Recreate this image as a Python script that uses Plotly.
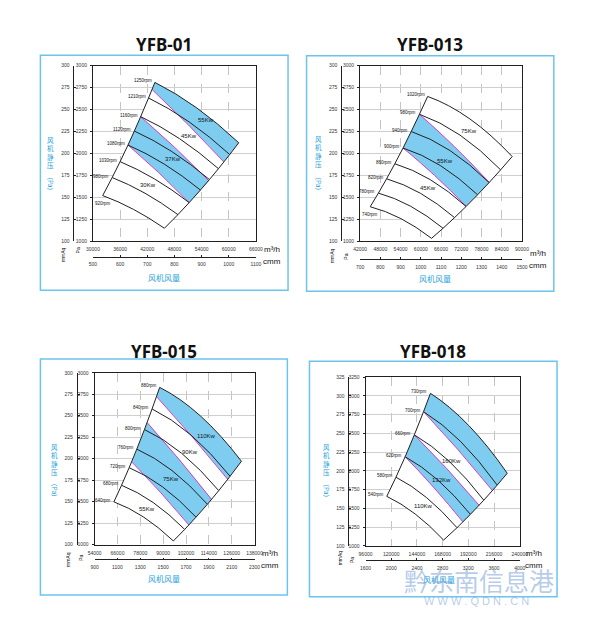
import plotly.graph_objects as go

FIG_W, FIG_H = 604, 637

TITLES = ["YFB-01", "YFB-013", "YFB-015", "YFB-018"]

# ---------------- Panel 1 : YFB-01 ----------------
P1_RPM = [920, 980, 1030, 1080, 1120, 1160, 1210, 1250]
P1_START_Q = [32150, 34246, 35995, 37741, 39139, 40538, 42284, 43682]
P1_START_P = [1522, 1727, 1908, 2097, 2256, 2420, 2633, 2810]
P1_MID_Q = [38950, 41490, 43608, 45724, 47418, 49112, 51227, 52921]
P1_MID_P = [1365, 1549, 1711, 1881, 2023, 2170, 2361, 2520]
P1_END_Q = [45780, 48765, 51255, 53741, 55733, 57724, 60210, 62201]
P1_END_P = [1150, 1305, 1442, 1585, 1704, 1828, 1989, 2123]
P1_ISO_Q = [[37741, 44498, 51255], [40538, 48069, 55600], [43051, 50975, 58900]]
P1_ISO_P = [[2097, 1785, 1442], [2420, 2070, 1690], [2729, 2332, 1906]]
P1_BANDS = [(("iso", 0), ("iso", 1)), (("iso", 2), ("rpm", 7))]
P1_KW_TEXT = ["55Kw", "45Kw", "37Kw", "30Kw"]
P1_KW_Q = [54880, 51300, 47710, 42190]
P1_KW_P = [2380, 2203, 1936, 1639]
P1_Q_RANGE = [30000, 66000]
P1_Q_TICKS = [30000, 36000, 42000, 48000, 54000, 60000, 66000]
P1_CMM_RANGE = [500, 1100]
P1_CMM_TICKS = [500, 600, 700, 800, 900, 1000, 1100]
P1_P_RANGE = [1000, 3000]
P1_P_TICKS = [1000, 1250, 1500, 1750, 2000, 2250, 2500, 2750, 3000]
P1_MM_RANGE = [100, 300]
P1_MM_TICKS = [100, 125, 150, 175, 200, 225, 250, 275, 300]

# ---------------- Panel 2 : YFB-013 ----------------
P2_RPM = [740, 780, 820, 860, 900, 940, 980, 1020]
P2_START_Q = [45000, 47432, 49865, 52297, 54730, 57162, 59594, 62027]
P2_START_P = [1395, 1550, 1713, 1884, 2063, 2251, 2447, 2650]
P2_MID_Q = [54090, 57014, 59938, 62861, 65785, 68709, 71632, 74557]
P2_MID_P = [1260, 1400, 1547, 1702, 1864, 2033, 2210, 2394]
P2_END_Q = [63180, 66595, 70010, 73425, 76841, 80256, 83670, 87086]
P2_END_P = [1035, 1150, 1271, 1398, 1531, 1670, 1815, 1966]
P2_ISO_Q = [[54730, 64090, 73450], [59594, 69947, 80300]]
P2_ISO_P = [[2063, 1751, 1399], [2447, 2080, 1672]]
P2_BANDS = [(("iso", 0), ("iso", 1))]
P2_KW_TEXT = ["75Kw", "55Kw", "45Kw"]
P2_KW_Q = [74400, 67200, 62200]
P2_KW_P = [2255, 1910, 1609]
P2_Q_RANGE = [42000, 90000]
P2_Q_TICKS = [42000, 48000, 54000, 60000, 66000, 72000, 78000, 84000, 90000]
P2_CMM_RANGE = [700, 1500]
P2_CMM_TICKS = [700, 800, 900, 1000, 1100, 1200, 1300, 1400, 1500]
P2_P_RANGE = [1000, 3000]
P2_P_TICKS = [1000, 1250, 1500, 1750, 2000, 2250, 2500, 2750, 3000]
P2_MM_RANGE = [100, 300]
P2_MM_TICKS = [100, 125, 150, 175, 200, 225, 250, 275, 300]

# ---------------- Panel 3 : YFB-015 ----------------
P3_RPM = [640, 680, 720, 760, 800, 840, 880]
P3_START_Q = [64130, 68138, 72146, 76154, 80163, 84171, 88179]
P3_START_P = [1497, 1690, 1895, 2111, 2339, 2579, 2830]
P3_MID_Q = [79740, 84724, 89708, 94691, 99675, 104659, 109643]
P3_MID_P = [1320, 1490, 1671, 1861, 2063, 2274, 2496]
P3_END_Q = [95350, 101309, 107269, 113228, 119188, 125147, 131106]
P3_END_P = [1042, 1176, 1319, 1469, 1628, 1795, 1970]
P3_ISO_Q = [[73600, 88550, 103500], [81600, 98500, 115400], [86500, 105200, 123900]]
P3_ISO_P = [[1960, 1609, 1228], [2420, 1988, 1526], [2723, 2256, 1759]]
P3_BANDS = [(("iso", 0), ("iso", 1)), (("iso", 2), ("rpm", 6))]
P3_KW_TEXT = ["110Kw", "90Kw", "75Kw", "55Kw"]
P3_KW_Q = [112800, 104300, 94000, 81600]
P3_KW_P = [2269, 2077, 1758, 1412]
P3_Q_RANGE = [54000, 138000]
P3_Q_TICKS = [54000, 66000, 78000, 90000, 102000, 114000, 126000, 138000]
P3_CMM_RANGE = [900, 2300]
P3_CMM_TICKS = [900, 1100, 1300, 1500, 1700, 1900, 2100, 2300]
P3_P_RANGE = [1000, 3000]
P3_P_TICKS = [1000, 1250, 1500, 1750, 2000, 2250, 2500, 2750, 3000]
P3_MM_RANGE = [100, 300]
P3_MM_TICKS = [100, 125, 150, 175, 200, 225, 250, 275, 300]

# ---------------- Panel 4 : YFB-018 ----------------
P4_RPM = [540, 580, 620, 660, 700, 730]
P4_START_Q = [115830, 124410, 132990, 141570, 150150, 156584]
P4_START_P = [1660, 1915, 2188, 2480, 2789, 3034]
P4_MID_Q = [142365, 152910, 163456, 174002, 184547, 192456]
P4_MID_P = [1425, 1644, 1878, 2129, 2395, 2604]
P4_END_Q = [168900, 181410, 193922, 206433, 218944, 228328]
P4_END_P = [1077, 1242, 1420, 1609, 1810, 1968]
P4_ISO_Q = [[132990, 159970, 186950], [141570, 171835, 202100], [150150, 182325, 214500]]
P4_ISO_P = [[2188, 1774, 1319], [2480, 2030, 1540], [2789, 2283, 1737]]
P4_BANDS = [(("iso", 0), ("iso", 1)), (("iso", 2), ("rpm", 5))]
P4_KW_TEXT = ["160Kw", "132Kw", "110Kw"]
P4_KW_Q = [176300, 167200, 149700]
P4_KW_P = [2127, 1876, 1533]
P4_Q_RANGE = [96000, 240000]
P4_Q_TICKS = [96000, 120000, 144000, 168000, 192000, 216000, 240000]
P4_CMM_RANGE = [1600, 4000]
P4_CMM_TICKS = [1600, 2000, 2400, 2800, 3200, 3600, 4000]
P4_P_RANGE = [1000, 3250]
P4_P_TICKS = [1000, 1250, 1500, 1750, 2000, 2250, 2500, 2750, 3000, 3250]
P4_MM_RANGE = [100, 325]
P4_MM_TICKS = [100, 125, 150, 175, 200, 225, 250, 275, 300, 325]

PANELS = [
    dict(rpm=P1_RPM, sq=P1_START_Q, sp=P1_START_P, mq=P1_MID_Q, mp=P1_MID_P, eq=P1_END_Q, ep=P1_END_P,
         iq=P1_ISO_Q, ip=P1_ISO_P, bands=P1_BANDS, kt=P1_KW_TEXT, kq=P1_KW_Q, kp=P1_KW_P,
         qr=P1_Q_RANGE, qt=P1_Q_TICKS, cr=P1_CMM_RANGE, ct=P1_CMM_TICKS,
         pr=P1_P_RANGE, pt=P1_P_TICKS, mr=P1_MM_RANGE, mt=P1_MM_TICKS),
    dict(rpm=P2_RPM, sq=P2_START_Q, sp=P2_START_P, mq=P2_MID_Q, mp=P2_MID_P, eq=P2_END_Q, ep=P2_END_P,
         iq=P2_ISO_Q, ip=P2_ISO_P, bands=P2_BANDS, kt=P2_KW_TEXT, kq=P2_KW_Q, kp=P2_KW_P,
         qr=P2_Q_RANGE, qt=P2_Q_TICKS, cr=P2_CMM_RANGE, ct=P2_CMM_TICKS,
         pr=P2_P_RANGE, pt=P2_P_TICKS, mr=P2_MM_RANGE, mt=P2_MM_TICKS),
    dict(rpm=P3_RPM, sq=P3_START_Q, sp=P3_START_P, mq=P3_MID_Q, mp=P3_MID_P, eq=P3_END_Q, ep=P3_END_P,
         iq=P3_ISO_Q, ip=P3_ISO_P, bands=P3_BANDS, kt=P3_KW_TEXT, kq=P3_KW_Q, kp=P3_KW_P,
         qr=P3_Q_RANGE, qt=P3_Q_TICKS, cr=P3_CMM_RANGE, ct=P3_CMM_TICKS,
         pr=P3_P_RANGE, pt=P3_P_TICKS, mr=P3_MM_RANGE, mt=P3_MM_TICKS),
    dict(rpm=P4_RPM, sq=P4_START_Q, sp=P4_START_P, mq=P4_MID_Q, mp=P4_MID_P, eq=P4_END_Q, ep=P4_END_P,
         iq=P4_ISO_Q, ip=P4_ISO_P, bands=P4_BANDS, kt=P4_KW_TEXT, kq=P4_KW_Q, kp=P4_KW_P,
         qr=P4_Q_RANGE, qt=P4_Q_TICKS, cr=P4_CMM_RANGE, ct=P4_CMM_TICKS,
         pr=P4_P_RANGE, pt=P4_P_TICKS, mr=P4_MM_RANGE, mt=P4_MM_TICKS),
]

# ---------------- layout geometry (pixels) ----------------
GEOM = [
    dict(plot=(88.3, 63.3, 255.7, 240.7), box=(34.3, 52.7, 288.7, 290.0), title=(161.7, 42.3),
         mm_line=68.3, cmm_line=256.0, ylab=(45.0, 151.0, 182.0), xlab=(161.7, 276.7),
         unit_x=272.7, unit_y=(249.0, 260.7), mmaq=(57.0, 254.0), pa=(72.7, 250.0), low_below=True),
    dict(plot=(362.7, 63.3, 529.0, 240.7), box=(307.7, 53.3, 561.7, 291.0), title=(435.0, 42.0),
         mm_line=343.3, cmm_line=258.3, ylab=(320.0, 150.0, 181.7), xlab=(440.0, 278.3),
         unit_x=545.5, unit_y=(252.5, 264.5), mmaq=(333.3, 255.0), pa=(348.3, 256.0), low_below=True),
    dict(plot=(90.0, 373.3, 254.3, 546.7), box=(34.3, 359.3, 288.0, 597.7), title=(161.0, 351.7),
         mm_line=71.7, cmm_line=561.7, ylab=(49.3, 461.2, 491.7), xlab=(161.7, 580.7),
         unit_x=270.0, unit_y=(556.0, 568.3), mmaq=(63.3, 561.7), pa=(76.0, 560.0), low_below=False),
    dict(plot=(368.3, 377.7, 526.7, 548.0), box=(310.7, 361.7, 565.0, 599.3), title=(437.7, 351.7),
         mm_line=350.7, cmm_line=562.7, ylab=(328.3, 460.8, 491.7), xlab=(443.3, 581.7),
         unit_x=541.0, unit_y=(555.7, 568.3), mmaq=(341.7, 560.0), pa=(355.0, 562.7), low_below=False),
]

BLUE_TEXT = "#1e9fdc"
BOX_COLOR = "#6cc4ee"
BAND_FILL = "#7ecdf1"
MAGENTA = "#d93bc6"
CURVE = "#231f20"
NUM_FONT = "Liberation Sans, Arial, sans-serif"
CJK_FONT = "Noto Sans CJK SC"


def fx(px):
    return px / FIG_W


def fy(py):
    return 1 - py / FIG_H


def ctrl(s, m, e):
    return (2 * m[0] - (s[0] + e[0]) / 2.0, 2 * m[1] - (s[1] + e[1]) / 2.0)


def pt(p):
    return f"{p[0]:.2f},{p[1]:.2f}"


def seg(c):
    return f"Q {pt(ctrl(*c))} {pt(c[2])}"


def seg_rev(c):
    return f"Q {pt(ctrl(*c))} {pt(c[0])}"


fig = go.Figure()
shapes = []
annotations = []
layout_axes = {}

for i, (d, g) in enumerate(zip(PANELS, GEOM), start=1):
    xname = "x" if i == 1 else f"x{i}"
    yname = "y" if i == 1 else f"y{i}"
    x2name = f"x{i + 4}"
    y2name = f"y{i + 4}"
    xl, yt, xr, yb = g["plot"]
    xdom = [fx(xl), fx(xr)]
    ydom = [fy(yb), fy(yt)]

    tickfont = dict(family=NUM_FONT, size=5, color="#333")
    layout_axes["xaxis" if i == 1 else f"xaxis{i}"] = dict(
        domain=xdom, anchor=yname, range=d["qr"], tickvals=d["qt"],
        ticktext=[str(v) for v in d["qt"]], tickfont=tickfont, ticks="",
        ticklabelstandoff=3,
        showgrid=True, gridcolor="#c4c4c4", griddash="dash", gridwidth=0.8,
        showline=True, mirror=True, linecolor=CURVE, linewidth=1, zeroline=False)
    layout_axes["yaxis" if i == 1 else f"yaxis{i}"] = dict(
        domain=ydom, anchor=xname, range=d["pr"], tickvals=d["pt"],
        ticktext=[str(v) for v in d["pt"]], tickfont=tickfont, ticks="outside", ticklen=2,
        tickcolor=CURVE, tickwidth=0.6, ticklabelstandoff=2,
        showgrid=True, gridcolor="#cfcfcf", gridwidth=1,
        showline=True, mirror=True, linecolor=CURVE, linewidth=1, zeroline=False)
    layout_axes[f"xaxis{i + 4}"] = dict(
        domain=xdom, overlaying=xname, anchor="free", position=fy(g["cmm_line"]),
        side="bottom", range=d["cr"], tickvals=d["ct"], ticktext=[str(v) for v in d["ct"]],
        tickfont=tickfont, ticks="inside", ticklen=2, tickcolor=CURVE, tickwidth=0.6,
        ticklabelstandoff=3,
        showgrid=False, showline=True, linecolor=CURVE, linewidth=0.8, zeroline=False)
    layout_axes[f"yaxis{i + 4}"] = dict(
        domain=ydom, overlaying=yname, anchor="free", position=fx(g["mm_line"]),
        side="left", range=d["mr"], tickvals=d["mt"], ticktext=[str(v) for v in d["mt"]],
        tickfont=tickfont, ticks="inside", ticklen=2, tickcolor=CURVE, tickwidth=0.6,
        ticklabelstandoff=3,
        showgrid=False, showline=True, linecolor=CURVE, linewidth=0.8, zeroline=False)

    # invisible helper traces so each axis pair is a real subplot
    fig.add_trace(go.Scatter(x=d["sq"], y=d["sp"], xaxis=xname, yaxis=yname, mode="markers",
                             marker=dict(size=1, opacity=0), hoverinfo="skip", showlegend=False))
    fig.add_trace(go.Scatter(x=d["cr"], y=d["pr"], xaxis=x2name, yaxis=yname, mode="markers",
                             marker=dict(size=1, opacity=0), hoverinfo="skip", showlegend=False))
    fig.add_trace(go.Scatter(x=d["qr"], y=d["mr"], xaxis=xname, yaxis=y2name, mode="markers",
                             marker=dict(size=1, opacity=0), hoverinfo="skip", showlegend=False))

    curves = [((d["sq"][k], d["sp"][k]), (d["mq"][k], d["mp"][k]), (d["eq"][k], d["ep"][k]))
              for k in range(len(d["rpm"]))]
    isos = [((d["iq"][j][0], d["ip"][j][0]), (d["iq"][j][1], d["ip"][j][1]), (d["iq"][j][2], d["ip"][j][2]))
            for j in range(len(d["iq"]))]

    def edge(spec):
        kind, idx = spec
        return isos[idx] if kind == "iso" else curves[idx]

    # white fan area
    outline = ("M " + pt(curves[0][0]) + "".join(" L " + pt(c[0]) for c in curves[1:]) + " " +
               seg(curves[-1]) + "".join(" L " + pt(c[2]) for c in reversed(curves[:-1])) + " " +
               seg_rev(curves[0]) + " Z")
    shapes.append(dict(type="path", xref=xname, yref=yname, path=outline,
                       fillcolor="white", line=dict(width=0), layer="above"))
    # blue power bands
    for lo, hi in d["bands"]:
        b, t = edge(lo), edge(hi)
        p = f"M {pt(b[0])} L {pt(t[0])} {seg(t)} L {pt(b[2])} {seg_rev(b)} Z"
        shapes.append(dict(type="path", xref=xname, yref=yname, path=p,
                           fillcolor=BAND_FILL, line=dict(width=0), layer="above"))
    # magenta iso-power lines
    for c in isos:
        shapes.append(dict(type="path", xref=xname, yref=yname, path=f"M {pt(c[0])} {seg(c)}",
                           line=dict(color=MAGENTA, width=1), layer="above"))
    # rpm curves
    for c in curves:
        shapes.append(dict(type="path", xref=xname, yref=yname, path=f"M {pt(c[0])} {seg(c)}",
                           line=dict(color=CURVE, width=1), layer="above"))
    # side boundaries
    shapes.append(dict(type="path", xref=xname, yref=yname,
                       path="M " + " L ".join(pt(c[0]) for c in curves),
                       line=dict(color=CURVE, width=1), layer="above"))
    shapes.append(dict(type="path", xref=xname, yref=yname,
                       path="M " + " L ".join(pt(c[2]) for c in curves),
                       line=dict(color=CURVE, width=1), layer="above"))

    # rpm labels
    for k, r in enumerate(d["rpm"]):
        if k == 0 and g["low_below"]:
            annotations.append(dict(x=d["sq"][k], y=d["sp"][k], xref=xname, yref=yname,
                                    text=f"{r}rpm", showarrow=False, xanchor="center", yanchor="top",
                                    yshift=-3, font=dict(family=NUM_FONT, size=4.5, color="#111")))
        else:
            annotations.append(dict(x=d["sq"][k], y=d["sp"][k], xref=xname, yref=yname,
                                    text=f"{r}rpm", showarrow=False, xanchor="right", yanchor="middle",
                                    xshift=-1, yshift=1.5, font=dict(family=NUM_FONT, size=4.5, color="#111")))
    # power labels
    for t, q, p in zip(d["kt"], d["kq"], d["kp"]):
        annotations.append(dict(x=q, y=p, xref=xname, yref=yname, text=t, showarrow=False,
                                font=dict(family=NUM_FONT, size=6, color="#111")))

    # frame box
    bx0, by0, bx1, by1 = g["box"]
    shapes.append(dict(type="rect", xref="paper", yref="paper", x0=fx(bx0), x1=fx(bx1),
                       y0=fy(by1), y1=fy(by0), line=dict(color=BOX_COLOR, width=1.5),
                       fillcolor="rgba(0,0,0,0)", layer="below"))
    # title
    annotations.append(dict(x=fx(g["title"][0]), y=fy(g["title"][1]), xref="paper", yref="paper",
                            text=f"<b>{TITLES[i - 1]}</b>", showarrow=False, xanchor="center",
                            yanchor="middle", font=dict(family="Noto Sans, sans-serif", size=17, color="#111")))
    # y label (vertical)
    annotations.append(dict(x=fx(g["ylab"][0]), y=fy(g["ylab"][1]), xref="paper", yref="paper",
                            text="风<br>机<br>静<br>压", showarrow=False, xanchor="center",
                            yanchor="middle", font=dict(family=CJK_FONT, size=6.5, color=BLUE_TEXT)))
    annotations.append(dict(x=fx(g["ylab"][0]), y=fy(g["ylab"][2]), xref="paper", yref="paper",
                            text="（Pa）", showarrow=False, textangle=90, xanchor="center",
                            yanchor="middle", font=dict(family=CJK_FONT, size=6.5, color=BLUE_TEXT)))
    # x label
    annotations.append(dict(x=fx(g["xlab"][0]), y=fy(g["xlab"][1]), xref="paper", yref="paper",
                            text="风机风量", showarrow=False, xanchor="center", yanchor="middle",
                            font=dict(family=CJK_FONT, size=8, color=BLUE_TEXT)))
    # units
    annotations.append(dict(x=fx(g["unit_x"]), y=fy(g["unit_y"][0]), xref="paper", yref="paper",
                            text="m³/h", showarrow=False, xanchor="center", yanchor="middle",
                            font=dict(family=NUM_FONT, size=8, color="#111")))
    annotations.append(dict(x=fx(g["unit_x"]), y=fy(g["unit_y"][1]), xref="paper", yref="paper",
                            text="cmm", showarrow=False, xanchor="center", yanchor="middle",
                            font=dict(family=NUM_FONT, size=8, color="#111")))
    annotations.append(dict(x=fx(g["mmaq"][0]), y=fy(g["mmaq"][1]), xref="paper", yref="paper",
                            text="mmAq", showarrow=False, textangle=-90, xanchor="center", yanchor="middle",
                            font=dict(family=NUM_FONT, size=5, color="#111")))
    annotations.append(dict(x=fx(g["pa"][0]), y=fy(g["pa"][1]), xref="paper", yref="paper",
                            text="Pa", showarrow=False, textangle=-90, xanchor="center", yanchor="middle",
                            font=dict(family=NUM_FONT, size=5, color="#111")))

# faint site watermark seen on the picture
annotations.append(dict(x=fx(485), y=fy(582), xref="paper", yref="paper", text="黔东南信息港",
                        showarrow=False, xanchor="center", yanchor="middle",
                        font=dict(family=CJK_FONT, size=25, color="rgba(120,160,215,0.55)")))
annotations.append(dict(x=fx(482), y=fy(604), xref="paper", yref="paper", text="W W W . Q D N . C N",
                        showarrow=False, xanchor="center", yanchor="middle",
                        font=dict(family=NUM_FONT, size=11, color="rgba(120,160,215,0.55)")))

fig.update_layout(
    width=FIG_W, height=FIG_H, autosize=False,
    margin=dict(l=0, r=0, t=0, b=0),
    paper_bgcolor="white", plot_bgcolor="white",
    showlegend=False,
    shapes=shapes, annotations=annotations,
    **layout_axes,
)

fig.write_html("out.html", config={"displayModeBar": False},
               post_script="document.body.style.margin='0';document.body.style.overflow='hidden';")
